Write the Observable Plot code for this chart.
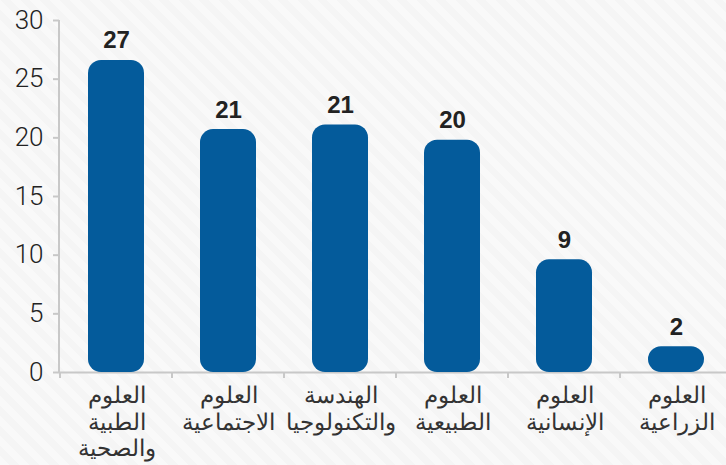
<!DOCTYPE html>
<html><head><meta charset="utf-8">
<script src="https://cdn.jsdelivr.net/npm/d3@7"></script>
<script src="https://cdn.jsdelivr.net/npm/@observablehq/plot@0.6"></script>
<style>
html,body{margin:0;padding:0;}
body{width:726px;height:465px;overflow:hidden;
background:repeating-linear-gradient(45deg,#f9f9f9 0px,#f9f9f9 7px,#f5f5f5 7px,#f5f5f5 14px);}
#chart svg{background:transparent;display:block;}
</style></head>
<body><div id="chart"></div>
<script>
const categories = ["العلوم\nالطبية\nوالصحية","العلوم\nالاجتماعية","الهندسة\nوالتكنولوجيا","العلوم\nالطبيعية","العلوم\nالإنسانية","العلوم\nالزراعية"];
const values = [26.6, 20.7, 21.1, 19.8, 9.6, 2.2];
const valueLabels = ["27","21","21","20","9","2"];
const yTicks = [0,5,10,15,20,25,30];

const data = categories.map((c,i)=>({cat:c, value:values[i], label:valueLabels[i]}));

const axisColor = "#c8c8c8";
const boundaryTicks = (index, scales, values, dims) => {
  const g = d3.create("svg:g");
  const x = scales.x, y = scales.y;
  const step = x.step ? x.step() : x.bandwidth()*2;
  const y0 = y(0);
  g.append("line").attr("x1",dims.marginLeft).attr("x2",dims.marginLeft)
    .attr("y1",y(30)).attr("y2",y0).attr("stroke",axisColor).attr("stroke-width",2);
  for (const c of categories) {
    const bx = x(c) - (step - x.bandwidth())/2;
    g.append("line").attr("x1",bx).attr("x2",bx).attr("y1",y0).attr("y2",y0+6)
      .attr("stroke",axisColor).attr("stroke-width",2);
  }
  return g.node();
};

const chart = Plot.plot({
  width: 726,
  height: 465,
  marginTop: 20,
  marginBottom: 93,
  marginLeft: 59,
  marginRight: 0,
  style: {background: "transparent", overflow: "visible"},
  x: {domain: categories, range: [59, 733.4], paddingInner: 0.5, paddingOuter: 0.25, axis: null},
  y: {domain: [0, 30], axis: null},
  marks: [
    Plot.ruleY([0], {stroke: axisColor, strokeWidth: 2}),
    Plot.barY(data, {x: "cat", y: "value", fill: "#045b9b", rx: 13}),
    boundaryTicks,
    Plot.axisY({ticks: yTicks, tickSize: 6, tickPadding: 10, stroke: axisColor, strokeWidth: 2, label: null,
      fontSize: 26, fontWeight: 300, fontFamily: "Roboto", fill: "#222", tickFormat: d=>String(d)}),
    Plot.text(data, {x: "cat", y: "value", text: "label", dy: -12, lineAnchor: "bottom",
      fontSize: 24, fontWeight: "bold", fontFamily: "Liberation Sans, Arial", fill: "#222"}),
    Plot.text(data, {x: "cat", y: () => 0, text: "cat", dy: 11, lineAnchor: "top", lineHeight: 1.17,
      fontSize: 23, fontFamily: "DejaVu Sans", fontWeight: 300, fill: "#333"})
  ]
});
document.getElementById("chart").appendChild(chart);
</script>
</body></html>
